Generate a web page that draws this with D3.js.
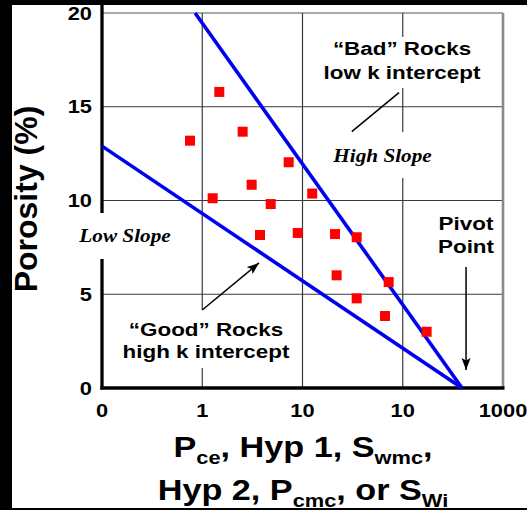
<!DOCTYPE html>
<html>
<head>
<meta charset="utf-8">
<script src="https://cdn.jsdelivr.net/npm/d3@7"></script>
<style>
  html, body { margin: 0; padding: 0; background: #fff; }
  svg { display: block; }
</style>
</head>
<body>
<script>
// Porosity vs. log-scaled capillary parameters, with "good"/"bad" rock trend lines
const xTickValues = [0.1, 1, 10, 100, 1000];
const xTickLabels = ["0", "1", "10", "10", "1000"];
const yTickValues = [0, 5, 10, 15, 20];
const yTickLabels = ["0", "5", "10", "15", "20"];

// Sample points (x on log axis, porosity %)
const sampleX = [0.755, 1.48, 2.53, 7.28, 3.11, 1.27, 4.82, 12.5, 3.77, 8.96, 21.1, 34.7, 21.9, 72.4, 34.7, 66.5, 173];
const sampleY = [13.19, 15.79, 13.67, 12.04, 10.84, 10.12, 9.81, 10.37, 8.16, 8.27, 8.21, 8.04, 6.01, 5.65, 4.78, 3.84, 3.0];

// Trend lines converging on the pivot point
const pivotX = 390;
const highSlopeLine = [[0.848, 20], [pivotX, 0]];
const lowSlopeLine = [[0.1, 12.9], [pivotX, 0]];

// Annotation pointers, in data units
const badLeader = [[91.8, 15.75], [31, 13.67]];
const goodArrow = [[1, 4.16], [3.68, 6.67]];
const pivotArrow = [[428, 6.45], [428, 0.96]];

const W = 527, H = 510;
const SX = 1.18; // horizontal text stretch
const sans = "'Liberation Sans', Arial, Helvetica, sans-serif";
const serif = "'Liberation Serif', 'Times New Roman', serif";

const svg = d3.select("body").append("svg").attr("width", W).attr("height", H);
svg.append("rect").attr("width", W).attr("height", H).attr("fill", "#fff");

const x = d3.scaleLog().domain([0.1, 1000]).range([102, 503]);
const y = d3.scaleLinear().domain([0, 20]).range([388, 13]);

const defs = svg.append("defs");
defs.append("marker").attr("id", "arrowhead")
  .attr("viewBox", "0 0 12 10").attr("refX", 12).attr("refY", 5)
  .attr("markerWidth", 12).attr("markerHeight", 10)
  .attr("markerUnits", "userSpaceOnUse").attr("orient", "auto")
  .append("path").attr("d", "M0,0.5 L12,5 L0,9.5 L2.5,5 Z").attr("fill", "#000");

// grid
const grid = svg.append("g");
grid.selectAll("line.v").data([1, 10, 100]).join("line")
  .attr("x1", d => x(d)).attr("x2", d => x(d))
  .attr("y1", y(20)).attr("y2", y(0))
  .attr("stroke", "#3a3a3a").attr("stroke-width", 1.2);
grid.selectAll("line.h").data([5, 10, 15]).join("line")
  .attr("x1", x(0.1)).attr("x2", x(1000))
  .attr("y1", d => y(d)).attr("y2", d => y(d))
  .attr("stroke", "#3a3a3a").attr("stroke-width", 1.2);
// top and right frame
svg.append("line").attr("x1", x(0.1)).attr("x2", x(1000)).attr("y1", y(20)).attr("y2", y(20))
  .attr("stroke", "#555").attr("stroke-width", 1.2);
svg.append("line").attr("x1", x(1000)).attr("x2", x(1000)).attr("y1", y(20)).attr("y2", y(0))
  .attr("stroke", "#8a8a8a").attr("stroke-width", 2.6);

// axes lines
svg.append("line").attr("x1", x(0.1)).attr("x2", x(0.1)).attr("y1", 0).attr("y2", y(0) + 1.6)
  .attr("stroke", "#000").attr("stroke-width", 3.3);
svg.append("line").attr("x1", x(0.1) - 1.6).attr("x2", x(1000) + 1.5).attr("y1", y(0)).attr("y2", y(0))
  .attr("stroke", "#000").attr("stroke-width", 3.3);

// trend lines
const line = d3.line().x(d => x(d[0])).y(d => y(d[1]));
svg.selectAll("path.trend").data([highSlopeLine, lowSlopeLine]).join("path")
  .attr("d", line).attr("fill", "none").attr("stroke", "#0000f0")
  .attr("stroke-width", 3.6);

// samples
const S = 10;
svg.selectAll("rect.pt").data(d3.range(sampleX.length)).join("rect")
  .attr("x", i => x(sampleX[i]) - S / 2).attr("y", i => y(sampleY[i]) - S / 2)
  .attr("width", S).attr("height", S).attr("fill", "#ff0000");

// white label backgrounds
function box(x0, y0, x1, y1) {
  svg.append("rect").attr("x", x0).attr("y", y0).attr("width", x1 - x0).attr("height", y1 - y0).attr("fill", "#fff");
}
box(325, 37, 484, 88);
box(332, 132, 436, 178);
box(76, 213, 174, 259);
box(124, 310, 290, 368);

// pointers
svg.append("path").attr("d", line(badLeader)).attr("stroke", "#000").attr("stroke-width", 1.5).attr("fill", "none");
svg.append("path").attr("d", line(goodArrow)).attr("stroke", "#000").attr("stroke-width", 1.5).attr("fill", "none").attr("marker-end", "url(#arrowhead)");
svg.append("path").attr("d", line(pivotArrow)).attr("stroke", "#000").attr("stroke-width", 1.5).attr("fill", "none").attr("marker-end", "url(#arrowhead)");

// text helper with horizontal stretch
function label(tx, ty, str, opts) {
  const o = Object.assign({ size: 19, family: sans, weight: "bold", style: "normal", anchor: "middle" }, opts || {});
  return svg.append("text")
    .attr("transform", `translate(${tx},${ty}) scale(${SX},1)`)
    .attr("text-anchor", o.anchor)
    .attr("font-family", o.family).attr("font-size", o.size)
    .attr("font-weight", o.weight).attr("font-style", o.style)
    .attr("fill", "#000").text(str);
}

label(402, 55, "\u201cBad\u201d Rocks");
label(402, 79, "low k intercept");
label(382.5, 161.7, "High Slope", { family: serif, size: 18, style: "italic" });
label(125, 241.7, "Low Slope", { family: serif, size: 18, style: "italic" });
label(206, 335.5, "\u201cGood\u201d Rocks");
label(206, 357.5, "high k intercept");
label(466, 230, "Pivot");
label(466, 253, "Point");

// tick labels
xTickValues.forEach((v, i) => label(x(v), 416.5, xTickLabels[i], { size: 18.5 }));
yTickValues.forEach((v, i) => label(92, y(v) + 6.6, yTickLabels[i], { size: 18.5, anchor: "end" }));

// axis titles
svg.append("text")
  .attr("transform", `translate(37,199) rotate(-90)`)
  .attr("text-anchor", "middle").attr("font-family", sans)
  .attr("font-size", 32).attr("font-weight", "bold").text("Porosity (%)");

function titleLine(ty, parts) {
  const t = svg.append("text")
    .attr("transform", `translate(303,${ty}) scale(${SX},1)`)
    .attr("text-anchor", "middle").attr("font-family", sans)
    .attr("font-weight", "bold").attr("font-size", 29);
  let shifted = false;
  parts.forEach(p => {
    const sub = p[1];
    const ts = t.append("tspan").text(p[0]);
    if (sub && !shifted) { ts.attr("dy", 7).attr("font-size", 18.5); shifted = true; }
    else if (!sub && shifted) { ts.attr("dy", -7); shifted = false; }
  });
}
titleLine(456.7, [["P"], ["ce", 1], [", Hyp 1, S"], ["wmc", 1], [","]]);
titleLine(499.5, [["Hyp 2, P"], ["cmc", 1], [", or S"], ["Wi", 1]]);

// dark outer frame
svg.append("rect").attr("x", 0).attr("y", 0).attr("width", 12).attr("height", H).attr("fill", "#000");
svg.append("rect").attr("x", 0).attr("y", 0).attr("width", W).attr("height", 5).attr("fill", "#000");
svg.append("rect").attr("x", 0).attr("y", 508).attr("width", W).attr("height", 2).attr("fill", "#000");
</script>
</body>
</html>
